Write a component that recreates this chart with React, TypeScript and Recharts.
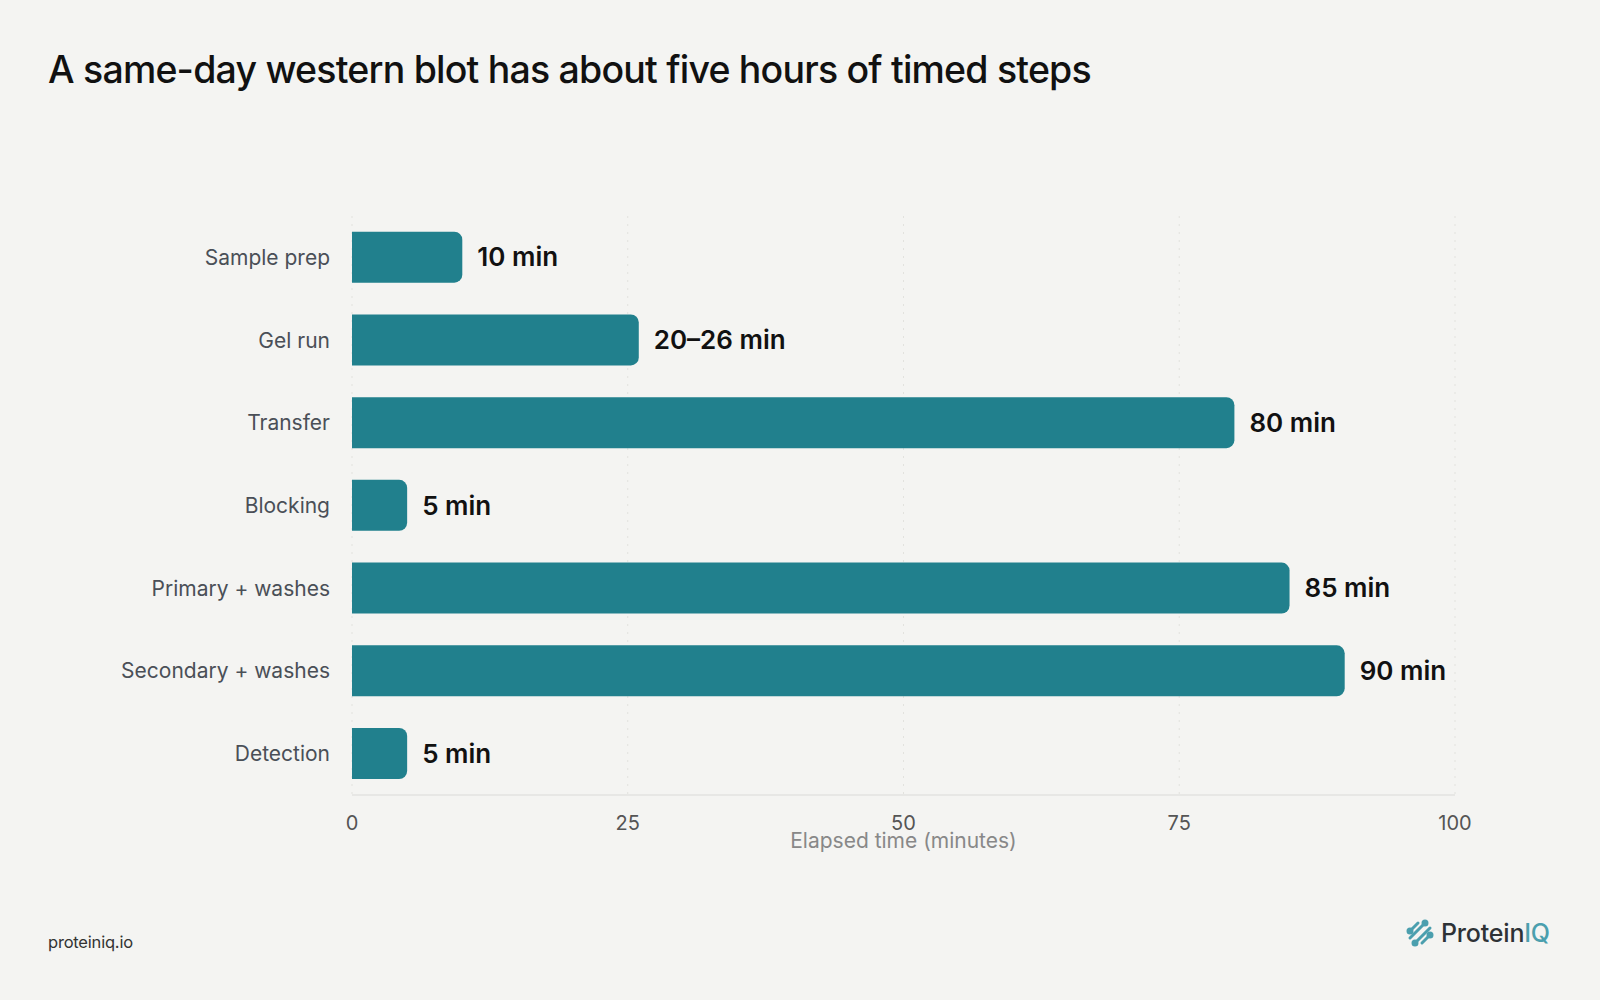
import React from "react";
import { BarChart, Bar, XAxis, YAxis, CartesianGrid, LabelList } from "recharts";

const steps = ["Sample prep", "Gel run", "Transfer", "Blocking", "Primary + washes", "Secondary + washes", "Detection"];
const minutes = [10, 26, 80, 5, 85, 90, 5];
const valueLabels = ["10 min", "20–26 min", "80 min", "5 min", "85 min", "90 min", "5 min"];
const xTicks = [0, 25, 50, 75, 100];

const data = steps.map((s, i) => ({ step: s, minutes: minutes[i], label: valueLabels[i] }));

const BG = "#F4F4F2";
const TEAL = "#21808D";
const FONT = "Inter, 'Noto Sans', sans-serif";

function Logo() {
  return (
    <div style={{ position: "absolute", left: 1406, top: 918, display: "flex", alignItems: "center", gap: 7 }}>
      <svg width="28" height="28" viewBox="0 0 28 28">
        <g stroke="#4B9FAE" strokeWidth="3" strokeLinecap="round" fill="#4B9FAE">
          <line x1="4" y1="12" x2="12" y2="4" />
          <line x1="4" y1="19" x2="19" y2="4" />
          <line x1="9" y1="24" x2="24" y2="9" />
          <line x1="16" y1="24" x2="24" y2="16" />
          <circle cx="4" cy="12" r="2" />
          <circle cx="19" cy="4" r="2" />
          <circle cx="9" cy="24" r="2" />
          <circle cx="24" cy="16" r="2" />
        </g>
      </svg>
      <div style={{ fontFamily: FONT, fontSize: 25, fontWeight: 500, color: "#2E3236", letterSpacing: -0.2 }}>
        Protein<span style={{ color: "#4B9FAE" }}>IQ</span>
      </div>
    </div>
  );
}

export default function App() {
  return (
    <div style={{ position: "fixed", left: 0, top: 0, width: 1600, height: 1000, background: BG, overflow: "hidden", fontFamily: FONT }}>
      <div style={{ position: "absolute", left: 48, top: 47, fontSize: 37.5, fontWeight: 500, color: "#111", letterSpacing: -0.8, whiteSpace: "nowrap" }}>
        A same-day western blot has about five hours of timed steps
      </div>
      <div style={{ position: "absolute", top: 0, left: 0 }}>
        <BarChart
          width={1600}
          height={1000}
          data={data}
          layout="vertical"
          margin={{ top: 216, right: 145, bottom: 175, left: 52 }}
          barCategoryGap="19%"
        >
          <CartesianGrid horizontal={false} vertical={true} stroke="#E2E2DE" strokeDasharray="2 6" />
          <XAxis
            type="number"
            domain={[0, 100]}
            ticks={xTicks}
            tickLine={false}
            axisLine={{ stroke: "#E3E3E0", strokeWidth: 1.5 }}
            tickSize={0}
            tickMargin={21}
            height={30}
            tick={{ fill: "#555", fontSize: 20, fontFamily: FONT }}
            label={{ value: "Elapsed time (minutes)", position: "bottom", offset: 8, fill: "#888", fontSize: 21, fontFamily: FONT }}
          />
          <YAxis
            type="category"
            dataKey="step"
            width={300}
            tickLine={false}
            axisLine={false}
            tickSize={0}
            tickMargin={22}
            tick={{ fill: "#4A4F57", fontSize: 21, fontFamily: FONT }}
          />
          <Bar dataKey="minutes" fill={TEAL} radius={[0, 8, 8, 0]} isAnimationActive={false}>
            <LabelList dataKey="label" position="right" offset={15} fill="#111" fontSize={26} fontWeight={600} fontFamily={FONT} />
          </Bar>
        </BarChart>
      </div>
      <div style={{ position: "absolute", left: 48, top: 932, fontSize: 16.5, color: "#333", letterSpacing: -0.2 }}>proteiniq.io</div>
      <Logo />
    </div>
  );
}
